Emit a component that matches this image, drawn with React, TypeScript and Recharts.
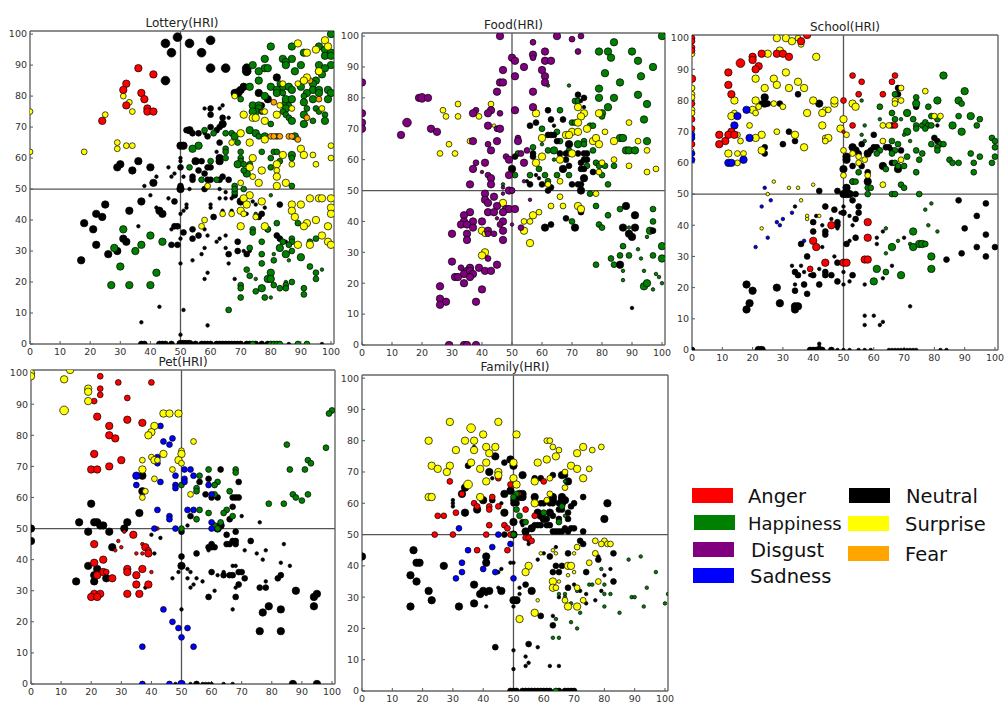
import { ReferenceLine, Scatter, ScatterChart, XAxis, YAxis, ZAxis } from "recharts"

// each point is [arousal-ish x, y, intensity level]
type Pt = [number, number, number]

const tickValues = [0, 10, 20, 30, 40, 50, 60, 70, 80, 90, 100]

const RED = "#ff0000"
const GREEN = "#008000"
const PURPLE = "#800080"
const BLUE = "#0000ff"
const BLACK = "#000000"
const YELLOW = "#ffff00"
const ORANGE = "#ffa500"

const lotteryNeutral: Pt[] = [[49,99,4],[45,97,4],[53,97,4],[60,98,4],[47,94,4],[57,94,4],[60,89,4],[65,89,4],[72,89,4],[72,88,4],[45,85,4],[82,86,3],[71,83,3],[70,82,3],[69,81,4],[68,81,3],[76,81,3],[79,79,3],[77,77,2],[58,76,1],[60,76,2],[63,76,1],[64,77,1],[60,74,2],[64,73,2],[66,73,1],[64,71,3],[63,70,2],[56,68,2],[58,68,1],[53,69,3],[52,69,2],[54,68,2],[60,70,2],[62,69,2],[59,67,2],[63,65,2],[50,64,3],[51,64,3],[50,60,1],[50,59,1],[55,59,3],[57,59,2],[62,62,1],[63,60,3],[63,59,3],[36,59,3],[30,58,3],[29,57,3],[40,57,3],[34,56,3],[46,57,1],[50,57,2],[51,54,1],[48,55,1],[47,54,1],[42,54,1],[41,52,3],[38,51,1],[54,54,2],[54,53,2],[56,56,2],[58,55,2],[59,57,2],[60,57,2],[59,53,2],[60,53,2],[64,54,2],[63,53,2],[66,53,2],[58,50,2],[53,50,1],[50,50,3],[50,51,2],[63,50,1],[65,49,1],[63,47,1],[65,47,1],[68,48,2],[70,46,3],[74,46,1],[75,45,1],[78,44,1],[67,47,1],[40,48,1],[46,47,1],[48,46,2],[37,46,3],[25,45,3],[42,44,1],[83,45,2],[43,43,3],[44,42,3],[33,43,3],[22,42,3],[24,41,3],[18,39,3],[21,37,3],[31,34,3],[32,33,3],[29,30,3],[26,29,3],[22,32,3],[17,27,3],[36,38,1],[52,45,1],[52,44,1],[51,43,1],[50,42,1],[60,45,1],[60,44,1],[61,41,2],[64,43,1],[67,43,1],[72,42,1],[77,42,2],[76,41,2],[48,38,2],[49,38,2],[47,37,1],[51,36,2],[54,37,2],[54,34,2],[56,35,2],[58,37,1],[59,35,1],[50,34,1],[47,32,2],[49,32,2],[58,31,1],[57,29,1],[62,33,1],[63,34,1],[65,35,1],[65,31,1],[66,29,2],[69,33,2],[69,30,2],[71,30,1],[72,29,2],[73,30,1],[79,37,2],[82,35,2],[83,34,2],[85,33,1],[54,27,1],[50,26,1],[59,23,1],[58,21,1],[66,26,1],[68,21,1],[43,12,1],[51,11,1],[37,7,1],[59,6,1],[50,3,1],[37,0,2],[38,0,2],[43,0,2],[44,0,2],[45,0,2],[47,0,2],[50,0,3],[51,0,3],[52,0,3],[53,0,3],[55,0,2],[57,0,2],[58,0,2],[59,0,2],[60,0,2],[62,0,2],[63,0,2],[64,0,2],[65,0,2],[66,0,2],[67,0,2],[68,0,2],[69,0,2],[70,0,2],[72,0,2],[73,0,2],[75,0,2],[77,0,2],[79,0,2],[86,0,1],[97,0,1]]
const lotteryHappiness: Pt[] = [[100,100,3],[80,96,3],[87,96,3],[96,96,3],[98,95,3],[100,94,3],[91,94,3],[98,93,3],[100,93,3],[78,92,3],[84,92,3],[87,92,3],[85,91,3],[90,90,3],[74,90,3],[85,90,3],[96,90,3],[100,90,3],[78,89,3],[79,89,3],[76,88,3],[88,88,3],[96,88,3],[98,89,3],[97,87,3],[76,85,3],[95,85,3],[90,84,2],[94,84,3],[84,83,3],[86,83,3],[80,83,3],[82,82,3],[83,84,2],[73,83,3],[87,82,3],[90,83,3],[94,82,3],[96,82,3],[99,82,3],[96,81,3],[100,81,3],[82,81,3],[84,81,2],[92,81,3],[91,80,2],[78,80,3],[99,79,3],[94,79,3],[70,79,2],[91,78,3],[85,78,3],[86,77,2],[85,79,3],[87,79,3],[74,77,3],[76,77,3],[76,76,3],[85,76,3],[92,76,2],[95,76,2],[75,75,3],[77,75,2],[84,75,2],[74,75,3],[85,74,2],[96,75,2],[98,74,2],[91,74,3],[86,73,2],[87,72,3],[98,72,3],[94,72,2],[91,71,3],[80,71,2],[58,69,2],[73,69,3],[61,68,2],[65,68,2],[67,68,2],[75,68,3],[76,67,2],[68,67,3],[78,67,3],[82,67,2],[88,67,3],[69,65,2],[56,64,3],[54,63,3],[65,63,2],[65,62,2],[77,62,2],[70,62,2],[81,62,2],[82,62,2],[87,61,3],[83,59,2],[80,60,2],[65,60,2],[60,59,2],[70,60,2],[70,59,2],[73,58,2],[69,58,3],[71,58,2],[87,60,2],[53,57,2],[80,57,2],[72,55,3],[71,56,2],[57,53,2],[62,53,2],[68,51,2],[71,50,2],[87,51,2],[68,49,2],[68,50,2],[80,48,1],[75,42,1],[82,39,2],[89,39,2],[74,37,2],[74,36,2],[79,37,2],[84,33,2],[77,33,2],[87,34,2],[87,33,2],[86,32,2],[93,33,2],[95,34,2],[73,31,2],[77,29,2],[83,31,3],[87,30,2],[85,29,3],[81,29,1],[90,28,3],[81,27,2],[86,27,1],[77,26,2],[93,25,2],[97,24,1],[72,24,2],[73,22,2],[80,23,3],[95,23,2],[75,21,1],[79,21,3],[80,21,3],[95,21,2],[87,20,2],[85,20,1],[85,19,2],[81,19,2],[70,19,2],[70,18,2],[77,18,3],[83,18,2],[85,18,2],[91,18,2],[75,17,2],[91,16,2],[70,15,2],[78,15,2],[80,15,1],[66,11,2],[31,37,3],[40,35,3],[44,33,3],[37,32,3],[28,31,3],[35,30,3],[30,25,3],[42,23,3],[27,19,3],[33,19,3],[40,19,3],[74,0,2],[80,0,2],[81,0,2],[82,0,2],[83,0,2],[89,0,2],[92,0,2]]
const lotterySurprise: Pt[] = [[0,75,2],[0,62,2],[31,80,2],[33,78,2],[25,74,2],[34,75,2],[29,65,2],[29,63,2],[32,64,2],[34,64,2],[18,62,2],[89,97,3],[98,98,3],[99,96,3],[95,95,3],[92,94,3],[96,88,3],[92,86,3],[91,85,3],[84,84,2],[89,84,2],[68,80,2],[78,75,2],[71,74,3],[74,73,3],[75,73,3],[78,72,3],[82,74,3],[83,77,2],[87,76,2],[97,76,2],[70,68,3],[67,65,2],[73,65,3],[78,66,3],[90,63,3],[91,61,3],[94,61,2],[100,64,2],[100,60,2],[74,60,3],[84,61,3],[95,58,2],[73,57,3],[87,58,2],[77,56,3],[82,58,3],[82,56,2],[74,54,2],[82,54,3],[76,52,3],[70,52,2],[82,51,3],[85,52,3],[59,51,2],[73,48,3],[71,47,3],[72,45,3],[77,46,3],[93,47,3],[96,47,3],[97,47,3],[100,47,3],[87,45,3],[90,45,3],[100,44,3],[87,43,3],[100,42,3],[70,43,3],[71,42,2],[88,41,3],[95,40,3],[92,39,3],[91,38,3],[99,38,3],[70,38,3],[78,38,3],[57,38,2],[58,40,2],[64,42,2],[67,42,2],[97,35,3],[99,33,3],[100,32,3],[89,32,3],[93,32,3],[75,41,2]]
const lotteryFear: Pt[] = [[81,78,2],[77,75,1],[80,67,2],[81,67,2],[83,67,2],[86,67,2],[87,67,2],[89,66,2],[92,73,2],[96,79,2],[93,85,2]]
const lotteryAnger: Pt[] = [[36,89,3],[41,87,3],[32,84,3],[31,82,3],[37,81,3],[38,79,3],[32,77,3],[39,76,3],[39,75,3],[41,75,3],[24,72,3]]

const foodNeutral: Pt[] = [[72,81,2],[74,80,2],[73,79,1],[74,77,1],[62,76,2],[63,73,2],[67,73,2],[58,72,2],[64,71,1],[56,71,2],[62,68,2],[63,68,2],[64,68,2],[65,66,2],[69,65,3],[57,62,2],[57,61,2],[51,61,2],[68,62,2],[66,62,2],[72,62,2],[74,62,2],[75,62,2],[75,60,2],[68,60,2],[74,60,2],[73,59,2],[69,58,2],[67,57,3],[73,57,2],[74,57,2],[77,56,2],[50,57,3],[58,55,1],[59,54,1],[55,53,1],[56,52,2],[60,52,2],[70,52,2],[74,54,3],[72,52,2],[73,52,2],[62,50,2],[63,51,2],[73,50,3],[68,41,2],[61,38,3],[63,39,2],[71,38,3],[73,43,2],[88,45,3],[91,42,3],[87,38,3],[89,36,3],[90,35,3],[91,38,3],[97,37,2],[86,26,3],[90,12,1]]
const foodHappiness: Pt[] = [[100,100,3],[84,98,3],[79,95,3],[82,95,3],[90,95,3],[83,93,3],[92,92,3],[97,90,3],[81,88,3],[93,87,3],[86,85,3],[62,84,1],[69,84,1],[79,83,3],[92,81,3],[79,80,3],[84,80,3],[71,79,2],[72,79,2],[95,78,3],[82,77,3],[66,76,2],[80,75,3],[94,73,3],[80,74,2],[70,72,2],[71,72,2],[76,71,2],[77,71,2],[60,70,2],[65,69,2],[86,67,3],[87,67,3],[95,66,3],[74,66,2],[66,66,2],[60,65,1],[72,65,3],[74,65,2],[57,64,2],[77,63,2],[62,63,2],[64,63,3],[69,63,2],[88,63,3],[89,63,3],[91,63,3],[52,62,2],[69,62,2],[64,60,1],[78,59,2],[79,58,2],[81,58,2],[84,58,2],[75,58,2],[59,57,2],[56,55,2],[51,55,2],[61,55,2],[65,55,2],[69,55,2],[80,55,2],[62,53,2],[82,52,2],[47,52,1],[50,50,2],[76,49,2],[78,45,2],[86,44,2],[97,44,2],[82,42,2],[70,40,2],[97,40,2],[79,39,2],[80,38,2],[89,38,1],[96,37,3],[95,35,1],[87,32,2],[92,31,1],[100,32,3],[97,29,2],[86,29,2],[89,29,2],[83,28,2],[93,28,1],[100,28,3],[78,26,2],[84,26,2],[87,24,1],[94,24,1],[98,23,1],[99,22,1],[87,21,1],[100,20,1],[94,19,3],[95,20,3],[97,18,1]]
const foodSurprise: Pt[] = [[27,76,2],[28,74,2],[32,78,2],[32,74,2],[39,74,2],[43,78,2],[44,71,1],[29,65,2],[26,62,2],[31,62,2],[36,66,2],[58,75,3],[72,77,3],[74,75,3],[73,74,3],[72,72,3],[79,75,3],[75,70,3],[70,69,3],[72,69,3],[68,68,3],[69,68,3],[60,67,3],[77,66,3],[78,67,3],[79,65,3],[84,66,3],[81,69,2],[89,72,2],[92,66,2],[95,63,2],[60,61,3],[66,60,3],[70,62,3],[58,59,3],[80,59,2],[84,60,2],[79,56,2],[89,58,2],[95,56,2],[98,57,2],[66,53,2],[62,52,2],[66,48,2],[78,49,2],[47,46,3],[67,45,2],[63,45,2],[72,45,3],[73,44,3],[59,43,2],[57,42,3],[54,40,2],[56,40,2],[54,37,3],[56,33,3],[40,37,3],[41,36,2],[41,30,3],[40,29,3]]
const foodDisgust: Pt[] = [[0,85,3],[0,75,3],[0,72,3],[0,70,3],[46,100,3],[65,100,3],[70,99,2],[73,100,2],[57,98,2],[72,95,2],[61,95,3],[57,94,3],[57,93,2],[50,93,3],[51,92,3],[61,92,3],[63,92,3],[54,90,3],[60,89,3],[47,89,3],[61,87,3],[51,87,3],[46,85,3],[47,85,3],[61,85,3],[45,82,3],[57,82,3],[19,80,3],[20,80,4],[22,80,3],[57,77,3],[51,76,3],[38,76,2],[43,76,3],[37,75,3],[42,75,3],[46,75,2],[15,72,4],[42,71,3],[45,70,2],[46,70,3],[23,70,3],[25,69,3],[13,68,3],[37,66,3],[45,66,3],[52,67,2],[52,66,3],[42,65,2],[43,63,3],[53,62,2],[55,63,2],[48,61,2],[49,60,3],[38,59,2],[41,59,3],[54,59,3],[37,57,3],[40,56,1],[42,55,2],[43,54,3],[49,55,3],[36,52,3],[43,52,3],[54,53,1],[47,51,1],[49,50,3],[50,50,2],[47,49,1],[41,49,3],[44,48,3],[41,47,3],[42,46,3],[56,47,1],[45,45,3],[48,44,3],[49,44,3],[51,44,3],[42,43,3],[44,43,3],[47,43,3],[36,43,3],[34,42,3],[45,41,1],[34,40,3],[37,40,3],[40,40,3],[47,40,3],[46,39,2],[33,39,3],[35,39,3],[37,38,3],[50,39,1],[53,38,2],[42,37,3],[47,37,3],[30,36,3],[35,36,3],[42,36,2],[44,36,2],[35,34,3],[47,34,3],[30,27,3],[42,28,2],[33,25,2],[36,25,3],[35,24,3],[34,23,3],[45,26,3],[39,25,3],[36,24,3],[37,23,3],[41,24,3],[43,24,3],[31,22,3],[32,22,3],[36,22,3],[34,20,3],[26,19,3],[40,18,3],[26,15,3],[28,14,3],[26,13,3],[38,14,3],[29,0,3],[34,0,3],[35,0,3],[38,0,3]]

const schoolNeutral: Pt[] = [[24,81,3],[35,82,2],[23,79,2],[24,79,3],[25,79,2],[29,79,2],[42,79,3],[68,84,2],[68,82,2],[32,70,2],[30,66,2],[34,67,2],[24,65,2],[24,63,2],[60,69,2],[71,76,2],[74,78,2],[66,72,2],[81,72,1],[80,68,2],[81,67,2],[53,65,3],[54,64,3],[51,62,3],[51,61,3],[55,63,2],[56,66,2],[58,63,3],[59,64,2],[60,65,2],[61,65,2],[64,65,2],[65,65,2],[66,64,2],[69,64,2],[53,59,2],[56,59,2],[63,59,3],[66,60,2],[68,58,3],[50,58,3],[58,57,2],[58,54,3],[53,54,2],[58,52,1],[51,52,3],[42,51,2],[48,51,2],[50,50,3],[51,50,3],[52,50,3],[54,50,2],[53,48,2],[88,48,2],[97,47,2],[34,46,1],[44,46,2],[55,46,2],[50,46,1],[47,45,2],[55,44,2],[50,44,2],[49,44,1],[52,43,1],[41,43,1],[94,43,2],[54,42,2],[40,41,2],[43,40,1],[46,42,1],[48,41,2],[48,40,2],[48,39,1],[53,40,1],[90,39,2],[40,38,2],[44,38,2],[44,37,2],[97,37,2],[54,36,2],[52,35,1],[36,34,2],[51,34,2],[94,33,2],[100,33,2],[43,33,1],[38,30,2],[47,30,1],[97,30,2],[84,29,2],[89,31,2],[50,28,2],[48,28,2],[33,27,1],[36,27,1],[42,26,1],[34,25,2],[35,24,2],[37,25,1],[40,24,2],[39,24,1],[44,25,2],[44,24,2],[46,24,2],[53,24,2],[50,25,1],[48,22,2],[52,22,1],[50,21,1],[57,21,1],[34,21,1],[37,21,2],[42,21,2],[18,21,3],[20,19,3],[28,20,3],[34,19,2],[38,18,2],[19,15,3],[29,15,3],[34,14,3],[35,14,3],[34,13,3],[18,13,3],[72,14,1],[57,11,1],[60,11,1],[63,9,1],[62,8,1],[57,8,1],[63,38,1],[70,36,1],[61,36,1],[61,34,1],[66,27,1],[63,23,1],[0,0,2],[22,0,3],[23,0,3],[39,0,2],[40,0,2],[41,0,2],[42,2,1],[42,1,1],[43,0,2],[46,0,2],[48,0,1],[50,0,1],[52,0,1],[55,0,1],[57,0,1],[59,0,1],[65,0,1],[66,0,1],[67,0,1],[68,0,1],[69,0,1],[70,0,1],[71,0,1],[72,0,1],[73,0,1],[74,0,1],[82,0,1],[84,0,1]]
const schoolHappiness: Pt[] = [[83,88,3],[90,83,3],[67,82,2],[56,80,1],[74,81,2],[81,80,3],[88,80,3],[89,79,2],[74,79,3],[62,78,2],[78,78,2],[71,76,3],[66,76,2],[79,75,2],[88,75,2],[92,75,3],[62,74,1],[67,74,2],[69,74,1],[73,74,2],[81,74,2],[95,74,2],[57,72,1],[74,72,2],[76,72,2],[77,73,2],[78,72,2],[79,72,2],[86,72,3],[94,72,2],[74,71,2],[77,71,2],[71,70,3],[89,70,3],[70,69,1],[56,69,1],[99,68,2],[72,67,1],[57,67,1],[66,67,2],[100,67,2],[79,66,2],[82,66,2],[83,66,2],[68,66,2],[81,65,2],[100,65,2],[74,64,2],[81,64,2],[67,64,2],[62,64,2],[61,63,2],[66,63,2],[76,63,2],[92,63,2],[100,62,2],[71,62,2],[95,62,2],[75,61,2],[85,61,2],[86,60,2],[88,60,2],[93,60,2],[99,60,2],[67,60,2],[68,59,2],[70,59,2],[64,58,2],[55,57,2],[74,57,2],[93,57,2],[53,54,2],[54,54,2],[69,53,2],[58,52,2],[59,52,2],[70,52,2],[58,50,2],[66,50,2],[67,50,2],[75,50,2],[79,47,1],[77,45,1],[78,40,1],[64,39,1],[81,38,1],[73,38,3],[68,35,1],[75,34,3],[76,34,3],[77,34,2],[72,34,1],[66,33,3],[73,33,3],[64,31,1],[79,30,3],[61,26,3],[79,26,3],[64,25,2],[69,24,3],[60,22,3]]
const schoolSurprise: Pt[] = [[0,95,2],[0,84,2],[0,82,2],[0,81,2],[0,77,2],[0,76,2],[0,64,1],[28,100,3],[31,100,3],[33,99,3],[35,100,2],[36,98,2],[29,96,3],[25,95,3],[41,94,3],[31,89,3],[21,87,3],[27,87,3],[28,85,3],[35,86,3],[24,84,3],[32,84,3],[37,84,3],[14,80,3],[21,80,3],[40,80,3],[47,79,3],[47,80,3],[53,79,3],[54,78,3],[77,83,2],[69,84,2],[67,80,2],[69,80,2],[67,79,2],[20,77,3],[22,78,2],[21,76,2],[27,79,2],[30,78,2],[44,77,2],[45,77,2],[43,76,3],[38,76,3],[14,76,2],[13,75,3],[50,74,3],[19,72,2],[43,72,3],[49,71,3],[63,72,2],[65,72,2],[80,75,2],[82,75,2],[28,70,2],[23,69,3],[34,69,3],[15,69,2],[51,69,2],[21,68,3],[44,68,2],[45,68,3],[44,67,2],[16,67,2],[37,65,3],[23,64,3],[50,64,2],[12,63,3],[15,63,2],[17,63,2],[53,63,2],[55,62,2],[57,61,2],[69,61,2],[63,67,2],[15,60,2],[55,60,2],[50,56,2],[58,56,2],[63,53,2],[27,54,1],[40,53,1],[32,52,1],[35,52,1],[25,50,1],[36,48,1],[38,43,1],[38,42,1],[42,43,1],[23,39,1]]
const schoolBlue: Pt[] = [[0,69,2],[0,68,2],[0,63,2],[0,61,2],[18,77,3],[15,75,3],[14,72,3],[19,68,3],[12,60,3],[13,60,3],[17,61,3],[24,52,1],[26,48,1],[23,46,1],[33,44,1],[28,41,1],[30,42,1],[29,40,1],[25,36,1],[37,35,1],[21,33,1]]
const schoolAnger: Pt[] = [[0,100,2],[0,99,2],[0,97,2],[0,96,2],[0,87,3],[0,79,2],[0,74,2],[0,71,2],[0,66,2],[38,101,3],[36,99,3],[23,95,3],[28,95,3],[30,95,3],[32,94,3],[20,94,3],[20,93,3],[22,91,3],[16,92,4],[21,90,3],[12,89,3],[53,88,2],[67,88,2],[56,86,2],[66,86,2],[12,85,3],[13,82,3],[55,82,2],[63,82,2],[50,80,2],[53,72,2],[67,72,2],[50,70,1],[13,70,3],[9,69,3],[12,69,3],[14,69,3],[11,67,3],[9,66,3],[58,41,3],[46,40,3],[58,36,3],[40,35,3],[41,33,3],[44,28,3],[50,28,3],[51,28,3],[57,29,3],[58,29,3],[39,26,2]]

const petNeutral: Pt[] = [[63,69,2],[59,66,2],[37,67,3],[56,65,2],[69,65,2],[37,62,3],[58,61,2],[60,60,2],[62,60,2],[67,60,2],[68,60,2],[69,60,2],[20,58,3],[67,57,2],[36,55,3],[53,54,2],[66,53,2],[67,54,1],[70,54,1],[76,52,1],[16,52,3],[21,52,3],[22,52,3],[23,51,3],[24,51,3],[32,52,3],[0,50,3],[31,50,3],[19,49,3],[26,49,3],[50,49,2],[52,51,1],[63,51,3],[62,50,3],[68,49,2],[65,48,2],[40,48,1],[43,47,1],[68,46,2],[67,46,2],[65,45,2],[66,45,2],[68,45,2],[73,46,2],[0,46,3],[60,45,2],[60,44,2],[61,44,2],[59,44,2],[59,43,1],[84,45,1],[27,44,3],[71,43,1],[75,42,1],[78,43,1],[41,42,1],[55,42,2],[50,41,2],[77,40,1],[83,39,1],[19,38,3],[50,38,3],[86,38,1],[67,38,1],[68,38,1],[22,37,3],[52,37,1],[53,36,1],[49,36,1],[60,36,2],[69,36,2],[70,36,2],[64,36,1],[21,35,3],[62,35,1],[64,35,2],[66,35,2],[67,35,2],[83,35,2],[82,34,2],[25,34,3],[71,34,2],[47,34,1],[52,34,1],[55,34,1],[15,33,3],[21,33,3],[57,33,1],[78,33,1],[54,32,1],[69,32,2],[53,31,1],[76,31,2],[78,31,2],[68,31,1],[38,31,1],[88,30,3],[61,30,1],[95,29,3],[94,28,3],[59,28,2],[68,28,2],[79,25,3],[94,25,3],[83,24,3],[50,24,1],[67,24,1],[77,23,3],[76,17,3],[83,17,3],[48,0,1],[50,0,1],[53,0,1],[55,0,2],[57,0,1],[58,0,1],[59,0,1],[60,0,1],[64,0,1],[67,0,1],[87,0,3],[95,0,3]]
const petAnger: Pt[] = [[23,99,2],[29,97,2],[40,97,2],[23,95,2],[23,93,2],[32,92,2],[21,91,2],[22,86,3],[32,85,3],[26,83,3],[37,84,3],[26,80,3],[28,79,3],[21,74,3],[30,72,3],[26,70,3],[20,69,3],[22,69,3],[31,49,1],[34,48,3],[29,46,1],[21,45,3],[30,44,1],[37,45,1],[38,44,3],[39,43,2],[28,43,1],[35,42,1],[37,42,1],[39,42,3],[24,40,3],[21,39,3],[32,37,3],[37,37,3],[32,36,3],[24,36,3],[25,36,2],[40,36,1],[22,35,3],[35,35,3],[27,34,3],[35,32,3],[39,32,3],[21,29,3],[23,29,3],[32,29,3],[36,29,3],[20,28,3],[22,28,3],[42,50,1]]
const petHappiness: Pt[] = [[100,88,2],[99,87,2],[85,77,2],[98,76,2],[92,72,2],[93,71,2],[68,69,2],[59,69,2],[86,69,2],[91,69,2],[68,68,2],[56,67,2],[62,65,2],[61,64,2],[50,64,2],[55,63,2],[55,62,2],[66,62,2],[61,61,2],[87,61,2],[92,61,2],[88,60,2],[90,59,2],[79,58,2],[84,58,2],[59,55,2],[65,56,2],[64,55,2],[67,54,2],[56,56,2],[55,53,2],[63,52,2],[61,51,2],[50,50,2],[62,50,2]]
const petSadness: Pt[] = [[43,83,2],[47,79,2],[44,78,2],[46,77,2],[42,73,2],[42,71,2],[51,69,2],[53,69,2],[54,67,2],[35,67,3],[48,67,2],[51,66,2],[51,65,2],[43,65,2],[35,64,2],[48,64,2],[48,63,2],[59,64,2],[60,61,2],[42,56,2],[52,56,2],[54,56,2],[46,54,2],[46,53,2],[60,52,2],[41,50,2],[48,50,2],[60,50,2],[44,24,2],[47,20,2],[49,18,2],[52,18,2],[50,15,2],[37,12,2],[54,12,2],[37,0,2],[46,0,2],[50,0,3]]
const petSurprise: Pt[] = [[0,100,3],[0,99,3],[13,101,3],[11,98,3],[19,95,3],[19,94,3],[19,91,3],[11,88,4],[44,87,3],[46,87,3],[49,87,3],[41,83,3],[40,81,3],[39,80,3],[54,78,2],[50,75,2],[50,74,3],[44,74,3],[40,73,2],[41,72,3],[42,72,2],[37,72,2],[49,72,3],[50,71,2],[37,69,3],[47,69,2],[41,66,2],[38,62,2],[53,61,2],[37,60,2]]

const familyNeutral: Pt[] = [[44,75,3],[49,74,3],[50,72,3],[47,73,2],[35,72,2],[42,70,3],[37,78,1],[53,69,3],[63,69,2],[66,69,3],[67,69,2],[68,67,3],[43,68,1],[57,68,2],[59,68,2],[34,65,3],[33,63,3],[47,63,3],[49,64,3],[52,63,3],[53,63,3],[53,62,3],[52,62,3],[50,61,2],[57,62,3],[73,62,2],[63,62,3],[66,62,3],[63,61,3],[66,61,3],[67,61,3],[30,61,1],[30,60,1],[30,59,1],[40,61,3],[43,61,2],[50,60,2],[51,60,2],[59,60,2],[60,60,2],[62,60,2],[63,60,2],[65,60,2],[66,60,3],[69,59,2],[70,60,2],[81,60,3],[46,60,1],[34,57,3],[38,58,3],[47,57,3],[58,57,3],[59,56,3],[62,57,3],[61,55,2],[63,56,2],[65,58,2],[66,58,2],[68,57,2],[60,55,3],[68,55,2],[80,55,3],[50,54,3],[53,54,2],[65,55,2],[54,51,3],[58,53,2],[59,53,2],[61,53,2],[62,53,2],[57,53,2],[56,52,3],[63,51,2],[64,51,2],[65,51,2],[66,51,2],[67,52,2],[69,52,2],[68,51,2],[70,52,2],[73,51,2],[53,53,1],[47,50,2],[50,50,3],[55,48,1],[55,47,1],[72,48,2],[73,47,2],[64,46,1],[17,45,3],[0,43,3],[41,43,3],[60,44,1],[68,44,2],[83,44,2],[62,43,2],[58,42,1],[78,43,1],[78,42,2],[41,41,3],[18,41,3],[19,41,3],[49,41,1],[50,41,1],[27,40,3],[64,40,2],[66,40,2],[46,39,1],[45,38,1],[63,38,2],[65,38,2],[74,38,2],[82,39,1],[80,37,1],[16,37,3],[18,35,3],[37,34,3],[83,35,2],[54,34,2],[68,33,2],[70,34,1],[52,33,1],[45,33,1],[40,32,3],[22,32,3],[39,31,3],[42,32,3],[46,32,3],[41,31,1],[56,32,3],[79,32,1],[72,32,1],[52,31,1],[74,31,1],[65,30,1],[23,29,3],[50,29,3],[51,29,3],[77,29,1],[37,28,3],[41,27,1],[16,27,3],[32,27,3],[50,27,1],[74,28,1],[59,24,2],[63,24,1],[63,21,2],[44,14,2],[55,15,2],[58,14,1],[50,13,1],[54,11,1],[55,9,1],[54,8,1],[62,8,1],[65,8,1],[50,7,1],[49,0,2],[50,0,2],[51,0,2],[53,0,2],[54,0,2],[55,0,2],[56,0,2],[57,0,2],[58,0,2],[59,0,2],[60,0,2],[61,0,2],[62,0,2],[65,0,2],[67,0,2],[68,0,2],[69,0,2],[70,0,2]]
const familyAnger: Pt[] = [[29,67,2],[33,63,2],[49,66,2],[43,62,2],[52,63,1],[37,60,2],[38,59,2],[42,59,2],[42,58,2],[45,59,2],[54,58,2],[31,57,2],[25,56,2],[27,56,2],[57,56,2],[42,53,2],[47,53,2],[48,52,2],[24,50,2],[30,50,2],[41,50,2],[49,50,2],[54,49,2],[55,49,2],[56,48,2],[38,45,2],[48,45,2],[60,67,2],[45,68,2]]
const familySadness: Pt[] = [[32,52,2],[45,50,2],[49,47,2],[43,46,2],[35,45,2],[33,41,2],[40,39,2],[33,38,2],[44,38,2],[31,36,2],[50,36,2]]
const familyHappiness: Pt[] = [[67,67,1],[51,63,2],[50,62,2],[66,59,2],[51,58,2],[60,57,2],[52,56,2],[67,56,1],[54,54,2],[65,54,2],[50,50,2],[88,42,1],[92,43,1],[97,38,1],[79,39,1],[75,34,1],[76,34,1],[80,34,1],[94,33,1],[71,32,1],[65,31,1],[67,31,1],[80,31,1],[82,31,1],[101,31,1],[89,30,1],[90,30,1],[67,30,1],[93,27,1],[80,27,1],[69,28,1],[100,28,1],[72,25,1],[85,25,1],[64,23,1],[69,22,1],[71,20,1],[63,17,1],[65,17,1],[64,0,2]]
const familySurprise: Pt[] = [[29,86,3],[45,86,3],[36,84,4],[40,82,3],[51,82,3],[22,80,3],[34,80,3],[37,80,3],[61,80,2],[62,80,2],[41,78,3],[44,78,3],[63,78,2],[79,78,2],[73,78,3],[31,77,3],[37,77,3],[65,77,2],[76,77,2],[42,76,3],[71,76,3],[64,75,3],[61,74,3],[58,73,3],[36,73,3],[41,73,3],[50,73,3],[23,72,3],[29,72,3],[69,72,3],[25,71,3],[39,71,3],[71,71,3],[75,71,2],[28,70,3],[45,70,3],[67,70,2],[45,69,3],[50,68,3],[62,68,2],[73,68,3],[41,67,3],[57,67,3],[35,66,4],[51,66,3],[67,65,2],[39,62,3],[22,62,3],[23,62,3],[62,63,2],[61,61,2],[57,60,3],[77,48,2],[80,48,2],[71,46,2],[79,47,2],[81,47,2],[82,47,2],[63,45,1],[64,44,1],[59,44,1],[70,44,1],[77,44,2],[75,41,2],[68,40,3],[69,40,3],[55,40,3],[54,38,3],[70,38,1],[68,37,1],[63,35,3],[65,35,1],[78,35,2],[63,33,3],[64,33,2],[71,33,2],[58,29,1],[67,29,2],[73,29,2],[68,27,3],[71,27,3],[57,25,3],[52,23,3]]

const legendLeft = ["Anger", "Happiness", "Disgust", "Sadness"]
const legendRight = ["Neutral", "Surprise", "Fear"]

type Series = { color: string; points: Pt[] }
type PanelProps = {
  title: string
  left: number
  top: number
  width: number
  height: number
  series: Series[]
}

const FONT = "'DejaVu Sans', sans-serif"

function Panel({ title, left, top, width, height, series }: PanelProps) {
  const axisW = 30
  const axisH = 20
  const padTop = 6
  const padRight = 14
  const frame = { stroke: "#666", strokeWidth: 1.4 }
  const tickStyle = { fill: "#333", fontSize: 9.5, fontFamily: FONT }
  return (
    <>
      <div
        style={{
          position: "absolute",
          left,
          top: top - 16,
          width,
          textAlign: "center",
          fontFamily: FONT,
          fontSize: 12,
          lineHeight: "16px",
          color: "#222",
        }}
      >
        {title}
      </div>
      <div style={{ position: "absolute", left: left - axisW, top: top - 1 - padTop }}>
        <ScatterChart
          width={axisW + width + 1 + padRight}
          height={padTop + height + axisH + 1}
          margin={{ left: 0, right: padRight, top: padTop, bottom: 0 }}
        >
          <XAxis
            type="number"
            dataKey="x"
            domain={[0, 101]}
            ticks={tickValues}
            allowDataOverflow
            height={axisH}
            interval={0}
            tickSize={-3}
            tickMargin={7}
            stroke="#555"
            axisLine={frame}
            tick={tickStyle}
          />
          <YAxis
            type="number"
            dataKey="y"
            domain={[0, 101]}
            ticks={tickValues}
            allowDataOverflow
            width={axisW}
            interval={0}
            tickSize={-3}
            tickMargin={6}
            stroke="#555"
            axisLine={frame}
            tick={tickStyle}
          />
          <XAxis
            xAxisId="top"
            orientation="top"
            type="number"
            domain={[0, 101]}
            ticks={tickValues}
            height={1}
            tick={false}
            tickSize={-3}
            stroke="#555"
            axisLine={frame}
          />
          <YAxis
            yAxisId="right"
            orientation="right"
            type="number"
            domain={[0, 101]}
            ticks={tickValues}
            width={1}
            tick={false}
            tickSize={-3}
            stroke="#555"
            axisLine={frame}
          />
          <ZAxis type="number" dataKey="z" domain={[1, 4]} range={[10, 60]} />
          <ReferenceLine x={50} stroke="#555" strokeWidth={1.3} />
          <ReferenceLine y={50} stroke="#555" strokeWidth={1.3} />
          {series.map((s, i) => (
            <Scatter
              key={i}
              data={s.points.map(([x, y, z]) => ({ x, y, z }))}
              fill={s.color}
              stroke="#000"
              strokeWidth={0.7}
              isAnimationActive={false}
            />
          ))}
        </ScatterChart>
      </div>
    </>
  )
}

const legendColors: Record<string, string> = {
  Anger: RED,
  Happiness: GREEN,
  Disgust: PURPLE,
  Sadness: BLUE,
  Neutral: BLACK,
  Surprise: YELLOW,
  Fear: ORANGE,
}

function LegendRow({ name, x, y, textX, size }: { name: string; x: number; y: number; textX: number; size: number }) {
  return (
    <>
      <div
        style={{
          position: "absolute",
          left: x,
          top: y,
          width: 41,
          height: 15,
          background: legendColors[name],
        }}
      />
      <div
        style={{
          position: "absolute",
          left: textX,
          top: y - 6,
          fontFamily: FONT,
          fontSize: size,
          lineHeight: "30px",
          color: "#111",
        }}
      >
        {name}
      </div>
    </>
  )
}

export default function App() {
  return (
    <div style={{ position: "absolute", left: 0, top: 0, width: 1005, height: 705, background: "#fff", overflow: "hidden" }}>
      <Panel
        title="Lottery(HRI)"
        left={30}
        top={31}
        width={304}
        height={313}
        series={[
          { color: BLACK, points: lotteryNeutral },
          { color: GREEN, points: lotteryHappiness },
          { color: ORANGE, points: lotteryFear },
          { color: YELLOW, points: lotterySurprise },
          { color: RED, points: lotteryAnger },
        ]}
      />
      <Panel
        title="Food(HRI)"
        left={362}
        top={33}
        width={303}
        height={312}
        series={[
          { color: GREEN, points: foodHappiness },
          { color: BLACK, points: foodNeutral },
          { color: YELLOW, points: foodSurprise },
          { color: PURPLE, points: foodDisgust },
        ]}
      />
      <Panel
        title="School(HRI)"
        left={692}
        top={35}
        width={306}
        height={315}
        series={[
          { color: BLACK, points: schoolNeutral },
          { color: GREEN, points: schoolHappiness },
          { color: YELLOW, points: schoolSurprise },
          { color: BLUE, points: schoolBlue },
          { color: RED, points: schoolAnger },
        ]}
      />
      <Panel
        title="Pet(HRI)"
        left={31}
        top={370}
        width={304}
        height={314}
        series={[
          { color: BLACK, points: petNeutral },
          { color: RED, points: petAnger },
          { color: GREEN, points: petHappiness },
          { color: BLUE, points: petSadness },
          { color: YELLOW, points: petSurprise },
        ]}
      />
      <Panel
        title="Family(HRI)"
        left={362}
        top={375}
        width={306}
        height={316}
        series={[
          { color: BLACK, points: familyNeutral },
          { color: RED, points: familyAnger },
          { color: BLUE, points: familySadness },
          { color: GREEN, points: familyHappiness },
          { color: YELLOW, points: familySurprise },
        ]}
      />
      <LegendRow name={legendLeft[0]} x={692} y={488} textX={748} size={19.5} />
      <LegendRow name={legendLeft[1]} x={694} y={515} textX={748} size={18} />
      <LegendRow name={legendLeft[2]} x={693} y={542} textX={751} size={19.5} />
      <LegendRow name={legendLeft[3]} x={693} y={568} textX={750} size={19.5} />
      <LegendRow name={legendRight[0]} x={849} y={488} textX={906} size={19.5} />
      <LegendRow name={legendRight[1]} x={848} y={516} textX={905} size={19.5} />
      <LegendRow name={legendRight[2]} x={848} y={546} textX={905} size={19.5} />
    </div>
  )
}
